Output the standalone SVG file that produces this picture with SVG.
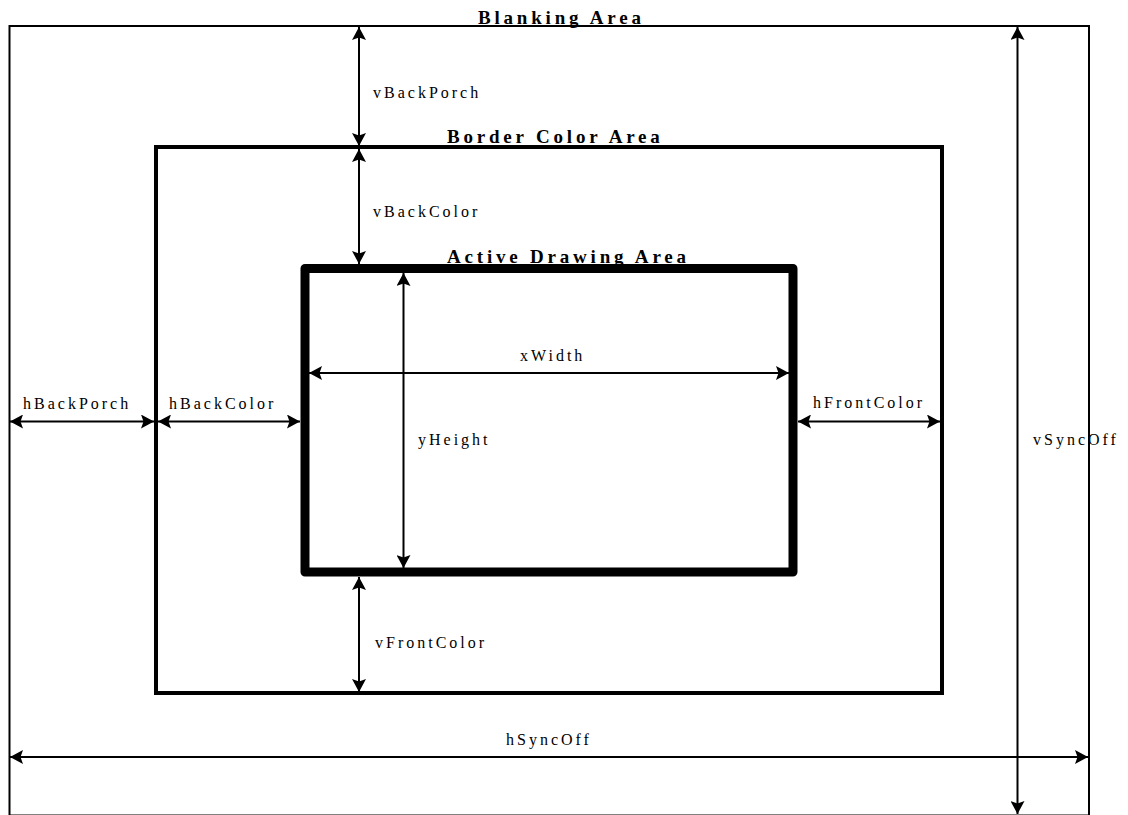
<svg xmlns="http://www.w3.org/2000/svg" width="1128" height="815" viewBox="0 0 1128 815">
<style>
.title{font-family:"Liberation Serif","Times New Roman",serif;font-size:19px;font-weight:bold;letter-spacing:3.8px;fill:#000}
.lbl{font-family:"Liberation Serif","Times New Roman",serif;font-size:16px;letter-spacing:3px;fill:#000}
.dim{stroke:#000;stroke-width:2;fill:none;marker-start:url(#ah);marker-end:url(#ah)}
</style>
<defs>
<marker id="ah" viewBox="0 0 13 14" markerWidth="13" markerHeight="14" refX="13" refY="7" orient="auto-start-reverse" markerUnits="userSpaceOnUse">
<path d="M0,0 L13,7 L0,14 L2.5,7 z" fill="#000"/>
</marker>
</defs>
<rect width="1128" height="815" fill="#fff"/>
<g id="blanking">
<rect x="9.5" y="26" width="1079.5" height="789.5" fill="none" stroke="#000" stroke-width="2"/>
<text class="title" x="478" y="24">Blanking Area</text>
</g>
<g id="border">
<rect x="156" y="147" width="786" height="546" fill="none" stroke="#000" stroke-width="4"/>
<text class="title" x="447" y="143">Border Color Area</text>
</g>
<g id="active">
<rect x="305" y="268.5" width="488" height="303.5" fill="none" stroke="#000" stroke-width="9" stroke-linejoin="round"/>
<text class="title" x="447" y="263">Active Drawing Area</text>
</g>
<g id="connectors">
<line class="dim" x1="359" y1="27" x2="359" y2="146"/>
<line class="dim" x1="359" y1="149" x2="359" y2="264"/>
<line class="dim" x1="359" y1="577" x2="359" y2="692"/>
<line class="dim" x1="403.5" y1="273" x2="403.5" y2="568"/>
<line class="dim" x1="309" y1="373" x2="789" y2="373"/>
<line class="dim" x1="10" y1="421.5" x2="154" y2="421.5"/>
<line class="dim" x1="158" y1="421.5" x2="300" y2="421.5"/>
<line class="dim" x1="798" y1="421.5" x2="940" y2="421.5"/>
<line class="dim" x1="1017.5" y1="27" x2="1017.5" y2="814"/>
<line class="dim" x1="10" y1="757" x2="1088" y2="757"/>
</g>
<g id="labels">
<text class="lbl" x="373" y="98">vBackPorch</text>
<text class="lbl" x="373" y="217">vBackColor</text>
<text class="lbl" x="23" y="409">hBackPorch</text>
<text class="lbl" x="169" y="409">hBackColor</text>
<text class="lbl" x="520" y="361">xWidth</text>
<text class="lbl" x="418" y="445">yHeight</text>
<text class="lbl" x="813" y="408">hFrontColor</text>
<text class="lbl" x="1033" y="445">vSyncOff</text>
<text class="lbl" x="375" y="648">vFrontColor</text>
<text class="lbl" x="506" y="745">hSyncOff</text>
</g>
</svg>
